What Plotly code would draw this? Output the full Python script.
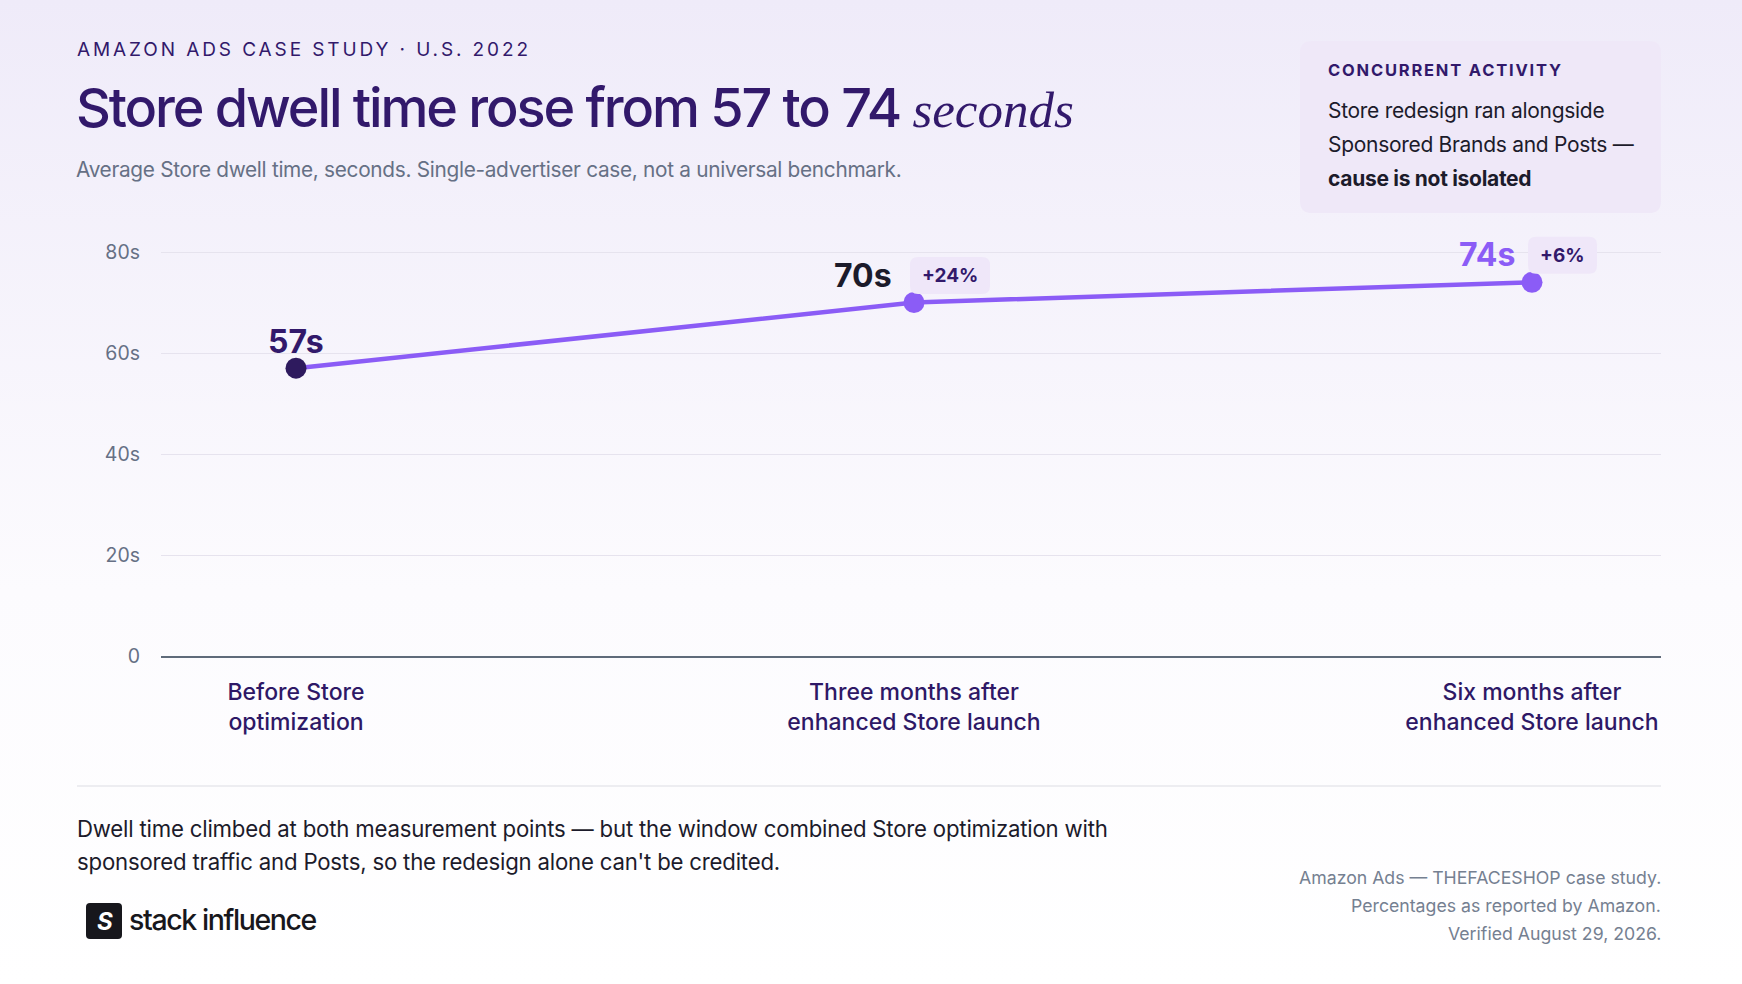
import base64
import plotly.graph_objects as go

W, H = 1742, 984
FIG_H = 996  # the captured viewport is a little taller than 984; positions below stay in 984-space

# data
stages = ["Before Store<br>optimization",
          "Three months after<br>enhanced Store launch",
          "Six months after<br>enhanced Store launch"]
dwell_seconds = [57, 70, 74]
value_labels = ["57s", "70s", "74s"]
change_labels = ["", "+24%", "+6%"]
y_ticks = [0, 20, 40, 60, 80]
y_tick_text = ["0", "20s", "40s", "60s", "80s"]

PURPLE = "#8b5cf6"
DARK = "#32196b"
INK = "#1c1b2b"
SLATE = "#667085"
FONT = "Inter"


def px(x):
    return x / W


def py(y):
    return 1 - y / H


# soft lavender-to-white backdrop as an svg gradient
svg = ('<svg xmlns="http://www.w3.org/2000/svg" width="100" height="100" preserveAspectRatio="none">'
       '<defs><linearGradient id="g" x1="0" y1="0" x2="0" y2="1">'
       '<stop offset="0" stop-color="#efebf9"/><stop offset="0.6" stop-color="#fcfbfe"/>'
       '<stop offset="1" stop-color="#ffffff"/></linearGradient></defs>'
       '<rect width="100" height="100" fill="url(#g)"/></svg>')
bg_src = "data:image/svg+xml;base64," + base64.b64encode(svg.encode()).decode()

fig = go.Figure()
fig.add_trace(go.Scatter(
    x=list(range(len(stages))), y=dwell_seconds,
    mode="lines+markers",
    line=dict(color=PURPLE, width=4.5),
    marker=dict(size=21, color=["#2e1a5e", PURPLE, PURPLE]),
    cliponaxis=False, hoverinfo="skip", showlegend=False,
))


def pill(w, h, r, dx, dy):
    # rounded rectangle path in pixels, relative to an anchor point (y up)
    x0, x1 = dx, dx + w
    y0, y1 = dy - h / 2, dy + h / 2
    return (f"M {x0+r},{y0} L {x1-r},{y0} Q {x1},{y0} {x1},{y0+r} L {x1},{y1-r} "
            f"Q {x1},{y1} {x1-r},{y1} L {x0+r},{y1} Q {x0},{y1} {x0},{y1-r} "
            f"L {x0},{y0+r} Q {x0},{y0} {x0+r},{y0} Z")


ann = []
shapes = []
# value labels on the points
label_style = [
    dict(xanchor="center", xshift=0, yshift=27, color=DARK),
    dict(xanchor="right", xshift=-20, yshift=27, color=INK),
    dict(xanchor="right", xshift=-15, yshift=28, color=PURPLE),
]
for i, (v, lab) in enumerate(zip(dwell_seconds, value_labels)):
    s = label_style[i]
    ann.append(dict(x=i, y=v, xref="x", yref="y", text="<b>%s</b>" % lab, showarrow=False,
                    xanchor=s["xanchor"], yanchor="middle", xshift=s["xshift"], yshift=s["yshift"],
                    font=dict(family=FONT, size=32, color=s["color"])))
# change badges
for i, (v, ch) in enumerate(zip(dwell_seconds, change_labels)):
    if not ch:
        continue
    bw = 80 if len(ch) > 3 else 69
    shapes.append(dict(type="path", xref="x", yref="y", xsizemode="pixel", ysizemode="pixel",
                       xanchor=i, yanchor=v, path=pill(bw, 37, 8, -4, 27),
                       fillcolor="#efe7f9", line=dict(width=0), layer="above"))
    ann.append(dict(x=i, y=v, xref="x", yref="y", text="<b>%s</b>" % ch, showarrow=False,
                    xanchor="center", yanchor="middle", xshift=-4 + bw / 2, yshift=27,
                    font=dict(family=FONT, size=19, color=DARK)))

# header
ann.append(dict(x=px(75), y=py(50), xref="paper", yref="paper", xanchor="left", yanchor="middle",
                text='<span style="letter-spacing:2.9px">AMAZON ADS CASE STUDY · U.S. 2022</span>',
                showarrow=False, font=dict(family=FONT, size=19, color=DARK)))
ann.append(dict(x=px(74), y=py(108), xref="paper", yref="paper", xanchor="left", yanchor="middle",
                text='<span style="letter-spacing:-2.1px">Store dwell time rose from 57 to 74 </span>'
                     '<span style="font-family:Liberation Serif;font-size:51px"><i>seconds</i></span>',
                showarrow=False, font=dict(family=FONT, size=54, color=DARK, weight=500)))
ann.append(dict(x=px(74), y=py(169), xref="paper", yref="paper", xanchor="left", yanchor="middle",
                text='<span style="letter-spacing:-0.3px">Average Store dwell time, seconds. '
                     'Single-advertiser case, not a universal benchmark.</span>',
                showarrow=False, font=dict(family=FONT, size=20.8, color=SLATE)))

# side note box
ann.append(dict(x=px(1326), y=py(70), xref="paper", yref="paper", xanchor="left", yanchor="middle",
                text='<span style="letter-spacing:1.8px"><b>CONCURRENT ACTIVITY</b></span>',
                showarrow=False, font=dict(family=FONT, size=16.5, color=DARK)))
for yy, t in [(110, "Store redesign ran alongside"),
              (144, "Sponsored Brands and Posts —"),
              (179, "<b>cause is not isolated</b>")]:
    ann.append(dict(x=px(1326), y=py(yy), xref="paper", yref="paper", xanchor="left", yanchor="middle",
                    text='<span style="letter-spacing:-0.3px">%s</span>' % t, showarrow=False,
                    font=dict(family=FONT, size=21, color=INK)))

# footer
for yy, t in [(828, "Dwell time climbed at both measurement points — but the window combined Store optimization with"),
              (861, "sponsored traffic and Posts, so the redesign alone can't be credited.")]:
    ann.append(dict(x=px(75), y=py(yy), xref="paper", yref="paper", xanchor="left", yanchor="middle",
                    text='<span style="letter-spacing:-0.2px">%s</span>' % t, showarrow=False,
                    font=dict(family=FONT, size=22.2, color=INK)))
for yy, t in [(877, "Amazon Ads — THEFACESHOP case study."),
              (905, "Percentages as reported by Amazon."),
              (933, "Verified August 29, 2026.")]:
    ann.append(dict(x=px(1663), y=py(yy), xref="paper", yref="paper", xanchor="right", yanchor="middle",
                    text=t, showarrow=False, font=dict(family=FONT, size=17.7, color="#758091")))

# logo
ann.append(dict(x=px(104.5), y=py(921), xref="paper", yref="paper", xanchor="center", yanchor="middle",
                text="<b><i>S</i></b>", showarrow=False, font=dict(family=FONT, size=24, color="white")))
ann.append(dict(x=px(127), y=py(919), xref="paper", yref="paper", xanchor="left", yanchor="middle",
                text='<span style="letter-spacing:-1.4px">stack influence</span>', showarrow=False,
                font=dict(family=FONT, size=28.5, color="#17171c", weight=500)))


def rounded(x0, y0, x1, y1, r):
    X0, X1 = px(x0), px(x1)
    Y0, Y1 = py(y0), py(y1)
    rx, ry = r / W, r / FIG_H
    return (f"M {X0+rx},{Y0} L {X1-rx},{Y0} Q {X1},{Y0} {X1},{Y0-ry} "
            f"L {X1},{Y1+ry} Q {X1},{Y1} {X1-rx},{Y1} L {X0+rx},{Y1} "
            f"Q {X0},{Y1} {X0},{Y1+ry} L {X0},{Y0-ry} Q {X0},{Y0} {X0+rx},{Y0} Z")


shapes += [
    dict(type="path", xref="paper", yref="paper", path=rounded(1300, 41, 1661, 213, 12),
         fillcolor="#efe8f8", line=dict(width=0), layer="below"),
    dict(type="path", xref="paper", yref="paper", path=rounded(86, 903, 122, 939, 4),
         fillcolor="#17171c", line=dict(width=0), layer="below"),
    dict(type="line", xref="paper", yref="paper", x0=px(77), x1=px(1661), y0=py(786), y1=py(786),
         line=dict(color="#e7e7ec", width=1.5)),
]

x_lo = -(296 - 161) / 618
x_hi = 2 + (1661 - 1532) / 618
# plot top extended above the 80s gridline so badges are not clipped
y_top_px = 215
y_hi = 80 * (656 - y_top_px) / (656 - 252)

fig.update_layout(
    width=W, height=FIG_H,
    margin=dict(l=0, r=0, t=0, b=0),
    paper_bgcolor="white", plot_bgcolor="rgba(0,0,0,0)",
    font=dict(family=FONT),
    images=[dict(source=bg_src, xref="paper", yref="paper", x=0, y=1, sizex=1, sizey=1,
                 sizing="stretch", layer="below")],
    xaxis=dict(domain=[px(161), px(1661)], range=[x_lo, x_hi],
               tickmode="array", tickvals=list(range(len(stages))), ticktext=stages,
               showgrid=False, zeroline=False, showline=True, linecolor="#5f6b7a", linewidth=1.5,
               ticks="outside", ticklen=15, tickcolor="rgba(0,0,0,0)",
               tickfont=dict(family=FONT, size=23, color="#2e1866", weight=500)),
    yaxis=dict(domain=[py(656), py(y_top_px)], range=[0, y_hi],
               tickmode="array", tickvals=y_ticks, ticktext=y_tick_text,
               showgrid=True, gridcolor="#e6e3ee", gridwidth=1, zeroline=False, showline=False,
               ticklabelstandoff=20,
               tickfont=dict(family=FONT, size=19.5, color=SLATE)),
    annotations=ann,
    shapes=shapes,
)

# pin the figure to the window's top-left corner
pin = ("document.body.style.margin='0';"
       "var d=document.getElementById('{plot_id}');"
       "d.style.position='fixed';d.style.top='0';d.style.left='0';")
fig.write_html("out.html", config={"displayModeBar": False}, post_script=pin)
